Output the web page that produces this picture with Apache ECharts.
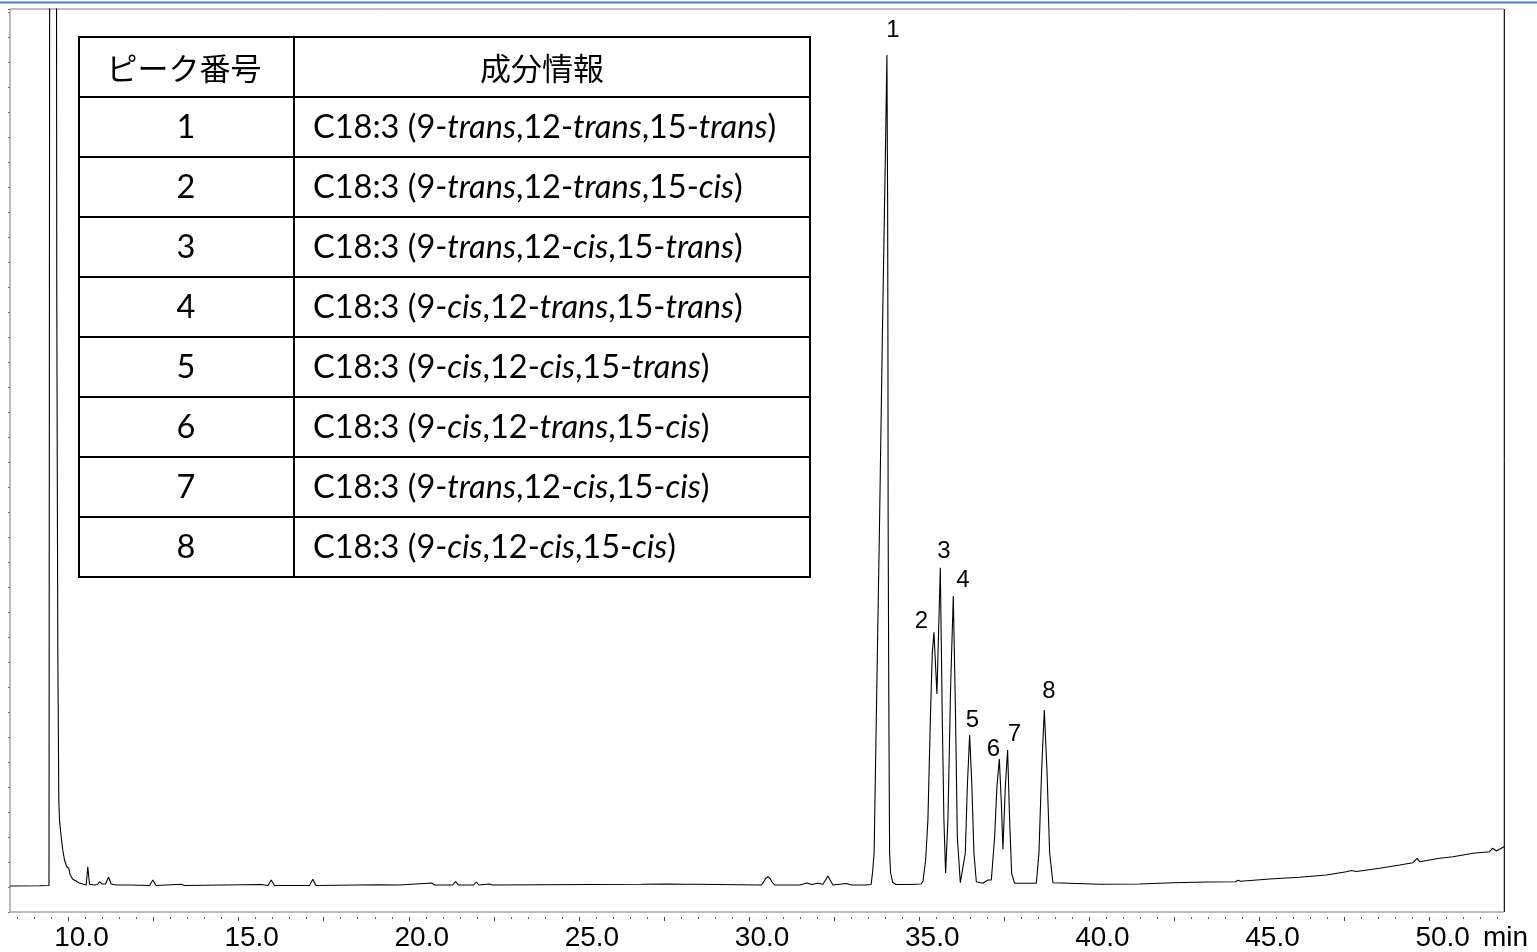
<!DOCTYPE html>
<html>
<head>
<meta charset="utf-8">
<script src="https://cdn.jsdelivr.net/npm/echarts@6/dist/echarts.min.js"></script>
<style>
html,body{margin:0;padding:0;background:#fff;}
#chart{width:1537px;height:952px;}
</style>
</head>
<body>
<div id="chart"></div>
<script>
// Retention time (min) of traced chromatogram points
const times = [
 8.281, 9.148, 9.427, 9.458, 9.633, 9.656, 9.686, 9.715, 9.735, 9.785,
 9.832, 9.882, 9.950, 10.009, 10.050, 10.126, 10.226, 10.303, 10.420, 10.520,
 10.567, 10.617, 10.764, 10.852, 10.911, 10.990, 11.087, 11.176, 11.255, 11.402,
 11.793, 12.381, 12.478, 12.572, 13.312, 13.409, 15.663, 15.863, 15.957, 16.054,
 17.083, 17.180, 17.274, 19.090, 19.728, 20.677, 20.757, 21.286, 21.374, 21.462,
 21.903, 21.982, 22.064, 22.373, 22.461, 26.832, 27.643, 28.104, 28.428, 30.367,
 30.426, 30.485, 30.553, 30.617, 30.676, 30.750, 31.484, 31.699, 31.837, 32.022,
 32.169, 32.248, 32.316, 32.381, 32.463, 32.857, 33.013, 33.424, 33.586, 33.630,
 33.674, 33.747, 33.835, 33.915, 34.012, 34.050, 34.071, 34.080, 34.086, 34.106,
 34.129, 34.159, 34.218, 34.306, 34.717, 35.050, 35.108, 35.188, 35.255, 35.326,
 35.384, 35.432, 35.520, 35.619, 35.678, 35.725, 35.775, 35.843, 35.922, 36.001,
 36.069, 36.119, 36.207, 36.354, 36.413, 36.481, 36.548, 36.607, 36.678, 36.872,
 37.019, 37.119, 37.216, 37.283, 37.354, 37.413, 37.459, 37.530, 37.597, 37.656,
 37.715, 37.803, 38.441, 38.518, 38.597, 38.676, 38.753, 38.832, 38.929, 38.979,
 40.301, 41.477, 42.455, 43.437, 44.298, 44.366, 44.445, 45.298, 46.179, 46.963,
 47.551, 47.698, 47.845, 48.531, 49.118, 49.509, 49.627, 49.706, 50.294, 50.685,
 51.273, 51.764, 51.843, 51.961, 52.184
];
// Detector response (arbitrary units) at those times
const intensity = [
 5.2, 5.24, 5.3, 300, 300, 122.4, 52.4, 22.4, 18.4, 15.0,
 12.4, 10.4, 9.06, 8.74, 7.4, 6.54, 6.2, 5.86, 5.6, 5.4,
 9.06, 5.54, 5.4, 5.5, 6.06, 5.6, 5.6, 6.94, 5.6, 5.4,
 5.4, 5.3, 6.4, 5.3, 5.54, 5.3, 5.5, 5.3, 6.4, 5.3,
 5.3, 6.54, 5.3, 5.46, 5.4, 5.8, 5.4, 5.4, 6.06, 5.4,
 5.4, 6.0, 5.4, 5.6, 5.4, 5.54, 5.6, 5.54, 5.54, 5.4,
 6.0, 6.7, 7.06, 6.7, 6.0, 5.4, 5.4, 5.8, 5.5, 5.74,
 5.54, 6.4, 7.2, 6.4, 5.4, 5.7, 5.4, 5.4, 5.5, 8.0,
 11.8, 42.4, 78.4, 114.4, 154.4, 171.4, 142.4, 114.4, 78.4, 42.4,
 11.8, 7.8, 6.0, 5.5, 5.5, 5.6, 6.06, 10.4, 18.4, 38.4,
 51.8, 55.94, 43.6, 68.86, 38.4, 18.4, 7.74, 18.4, 45.06, 63.2,
 38.4, 15.06, 5.86, 11.8, 25.06, 35.4, 25.06, 11.8, 6.06, 5.74,
 6.4, 6.4, 15.06, 25.06, 30.6, 21.74, 12.54, 25.06, 32.4, 18.4,
 7.74, 5.74, 5.74, 11.8, 28.4, 40.4, 28.4, 11.8, 5.86, 5.54,
 5.54, 5.6, 5.86, 6.0, 6.06, 6.34, 6.14, 6.6, 6.94, 7.4,
 8.06, 8.3, 8.1, 8.74, 9.4, 9.86, 10.74, 10.06, 10.74, 11.06,
 11.74, 12.06, 12.74, 12.2, 13.06
];
// Peak apexes
const peakNumbers = ['1', '2', '3', '4', '5', '6', '7', '8'];
const peakTimes = [34.050, 35.432, 35.619, 36.001, 36.481, 37.354, 37.597, 38.676];
const peakHeights = [171.4, 55.94, 68.86, 63.2, 35.4, 30.6, 32.4, 40.4];
// Table content
const tableHeader = ['ピーク番号', '成分情報'];
const components = [
 'C18:3 (9-*trans*,12-*trans*,15-*trans*)',
 'C18:3 (9-*trans*,12-*trans*,15-*cis*)',
 'C18:3 (9-*trans*,12-*cis*,15-*trans*)',
 'C18:3 (9-*cis*,12-*trans*,15-*trans*)',
 'C18:3 (9-*cis*,12-*cis*,15-*trans*)',
 'C18:3 (9-*cis*,12-*trans*,15-*cis*)',
 'C18:3 (9-*trans*,12-*cis*,15-*cis*)',
 'C18:3 (9-*cis*,12-*cis*,15-*cis*)'
];
// Axis tick labels (min)
const xLabelValues = [10, 15, 20, 25, 30, 35, 40, 45, 50];
const xMajorTicks = [10, 12.5, 15, 17.5, 20, 22.5, 25, 27.5, 30, 32.5, 35, 37.5, 40, 42.5, 45, 47.5, 50];
const xMinorTicks = [];
for (let k = 17; k <= 104; k++) xMinorTicks.push(k / 2);

// ---- styling ----
const X_MIN = 8.281, X_MAX = 52.184, Y_MAX = 180.6;
const labelOffsets = [[6,-25],[-12.6,-10.6],[3.6,-16],[9.6,-16],[2.7,-15],[-6,-9.7],[6.7,-15.7],[4.6,-18.3]];
const latin = 'Lato';
const cjk = '"Noto Sans CJK JP"';
const tableFontSize = 32.5;

function richText(s) {
  const parts = s.split('*');
  return parts.map((p, i) => p ? (i % 2 ? '{i|' + p + '}' : '{n|' + p + '}') : '').join('');
}

const tX0 = 79, tX1 = 810, tColX = 294, tY0 = 37, rowH = 60;
const nRows = components.length + 1;
const tableEls = [];
tableEls.push({type: 'rect', shape: {x: tX0, y: tY0, width: tX1 - tX0, height: rowH * nRows},
  style: {fill: '#fff', stroke: '#000', lineWidth: 2}, z: 100});
for (let r = 1; r < nRows; r++) {
  tableEls.push({type: 'line', shape: {x1: tX0, y1: tY0 + r * rowH, x2: tX1, y2: tY0 + r * rowH},
    style: {stroke: '#000', lineWidth: 2}, z: 101});
}
tableEls.push({type: 'line', shape: {x1: tColX, y1: tY0, x2: tColX, y2: tY0 + rowH * nRows},
  style: {stroke: '#000', lineWidth: 2}, z: 101});
tableEls.push({type: 'text', x: 184, y: tY0 + rowH / 2 + 1, z: 102,
  style: {text: tableHeader[0], font: '31px ' + cjk, fill: '#000', align: 'center', verticalAlign: 'middle'}});
tableEls.push({type: 'text', x: 542, y: tY0 + rowH / 2 + 1, z: 102,
  style: {text: tableHeader[1], font: '31px ' + cjk, fill: '#000', align: 'center', verticalAlign: 'middle'}});
components.forEach((c, i) => {
  const cy = tY0 + rowH * (i + 1) + rowH / 2 + 1;
  tableEls.push({type: 'text', x: 186, y: cy, z: 102,
    style: {text: peakNumbers[i], fontFamily: latin, fontSize: tableFontSize, fill: '#000', align: 'center', verticalAlign: 'middle'}});
  tableEls.push({type: 'text', x: 313, y: cy, z: 102,
    style: {text: richText(c), align: 'left', verticalAlign: 'middle',
      rich: {n: {fontFamily: latin, fontSize: tableFontSize, color: '#000'},
             i: {fontFamily: latin, fontSize: tableFontSize, fontStyle: 'italic', color: '#000'}}}});
});

const chart = echarts.init(document.getElementById('chart'), null, {renderer: 'canvas'});
const axFont = 'Liberation Sans';
chart.setOption({
  animation: false,
  backgroundColor: '#fff',
  grid: {left: 10, right: 33, top: 9, bottom: 40, show: true, borderColor: '#7a7a7a', borderWidth: 1, backgroundColor: 'transparent'},
  xAxis: [
    {type: 'value', min: X_MIN, max: X_MAX, position: 'bottom',
     axisLine: {show: false}, axisTick: {show: false}, splitLine: {show: false},
     axisLabel: {customValues: xLabelValues, formatter: v => v.toFixed(1), fontFamily: axFont, fontSize: 28,
       color: '#000', margin: 12, padding: [0, 0, 0, 26]},
     name: 'min', nameLocation: 'end', nameGap: -21,
     nameTextStyle: {fontFamily: axFont, fontSize: 28, color: '#000', align: 'left', verticalAlign: 'top', padding: [12, 0, 0, 0]}},
    {type: 'value', min: X_MIN, max: X_MAX, position: 'bottom', offset: 5,
     axisLine: {show: false}, splitLine: {show: false}, axisLabel: {show: false},
     axisTick: {show: true, customValues: xMinorTicks, length: 2, lineStyle: {color: '#666', width: 1}}},
    {type: 'value', min: X_MIN, max: X_MAX, position: 'bottom', offset: 5,
     axisLine: {show: false}, splitLine: {show: false}, axisLabel: {show: false},
     axisTick: {show: true, customValues: xMajorTicks, length: 4, lineStyle: {color: '#444', width: 1}}}
  ],
  yAxis: {type: 'value', min: 0, max: Y_MAX, interval: 5,
    axisLine: {show: false}, axisLabel: {show: false}, splitLine: {show: false},
    axisTick: {show: true, length: 2, lineStyle: {color: '#777'}}},
  series: [
    {type: 'line', name: 'chromatogram', data: times.map((t, i) => [t, intensity[i]]),
     symbol: 'none', clip: true, lineStyle: {color: '#000', width: 1.1}, z: 3},
    {type: 'scatter', name: 'peaks', data: peakTimes.map((t, i) => ({value: [t, peakHeights[i]],
       label: {offset: labelOffsets[i]}})),
     symbolSize: 0, itemStyle: {color: '#000', opacity: 1}, z: 4,
     emphasis: {disabled: true},
     label: {show: true, position: 'inside', formatter: p => peakNumbers[p.dataIndex],
       fontFamily: axFont, fontSize: 24, color: '#000', opacity: 1, textBorderWidth: 0, textShadowBlur: 0}}
  ],
  graphic: [
    {type: 'line', shape: {x1: 0, y1: 2.5, x2: 1537, y2: 2.5}, style: {stroke: '#4a7ebb', lineWidth: 2}, z: 100},
    {type: 'line', shape: {x1: 1504.5, y1: 9, x2: 1504.5, y2: 912}, style: {stroke: '#222', lineWidth: 1}, z: 100},
    {type: 'group', children: tableEls}
  ]
});
</script>
</body>
</html>
